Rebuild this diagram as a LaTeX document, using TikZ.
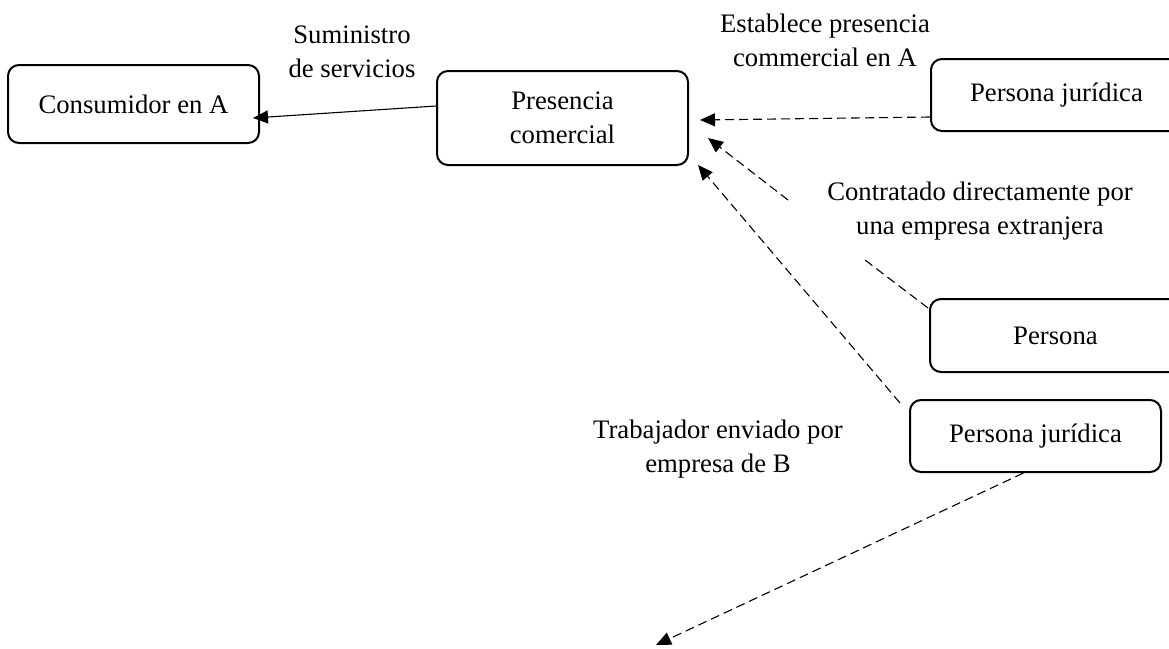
\documentclass[tikz,border=0pt]{standalone}
\usepackage{fontspec}
\setmainfont{Liberation Serif}
\usetikzlibrary{arrows.meta}
\tikzset{
  every node/.style={font=\fontsize{26.7pt}{34pt}\selectfont, inner sep=0pt},
  box/.style={draw, line width=2pt, rounded corners=11pt, minimum width=251pt, align=center},
  lbl/.style={align=center},
  conn/.style={line width=1.1pt, -{Triangle[length=15pt,width=13pt]}},
  dconn/.style={line width=1.1pt, dash pattern=on 9pt off 5pt, -{Triangle[length=15pt,width=13pt]}},
  dline/.style={line width=1.1pt, dash pattern=on 9pt off 5pt}
}
\begin{document}
\begin{tikzpicture}[x=1pt,y=-1pt]
\useasboundingbox (0,0) rectangle (1169,648);
% boxes
\node[box, minimum height=78pt] (cons) at (133.5,104) {Consumidor en A};
\node[box, minimum height=94pt] (pres) at (562.5,118) {Presencia\\comercial};
\node[box, minimum height=72pt] (pj1) at (1056.5,95) {Persona jurídica};
\node[box, minimum height=73pt] (pers) at (1055.5,335.5) {Persona};
\node[box, minimum height=72pt] (pj2) at (1035.5,436) {Persona jurídica};
% labels
\node[lbl] (l1) at (352,52) {Suministro\\de servicios};
\node[lbl] (l2) at (825,40) {Establece presencia\\commercial en A};
\node[lbl] (l3) at (980,211) {Contratado directamente por\\una empresa extranjera};
\node[lbl] (l4) at (718,449) {Trabajador enviado por\\empresa de B};
% connector end points
\coordinate (t1) at (253,118);
\coordinate (t2) at (700,120);
\coordinate (t3) at (708,138);
\coordinate (t4) at (698,165);
\coordinate (t5) at (656,645);
\coordinate (g1) at (865,260);
\coordinate (g2) at (788,200);
\coordinate (s3) at (928,308);
\coordinate (s4) at (900,403);
% connectors
\draw[conn] ([yshift=12pt]pres.west) -- (t1);
\draw[dconn] ([yshift=-22pt]pj1.west) -- (t2);
\draw[dline] (s3) -- (g1);
\draw[dconn] (g2) -- (t3);
\draw[dconn] (s4) -- (t4);
\draw[dconn] ([xshift=-12pt]pj2.south) -- (t5);
\end{tikzpicture}
\end{document}
